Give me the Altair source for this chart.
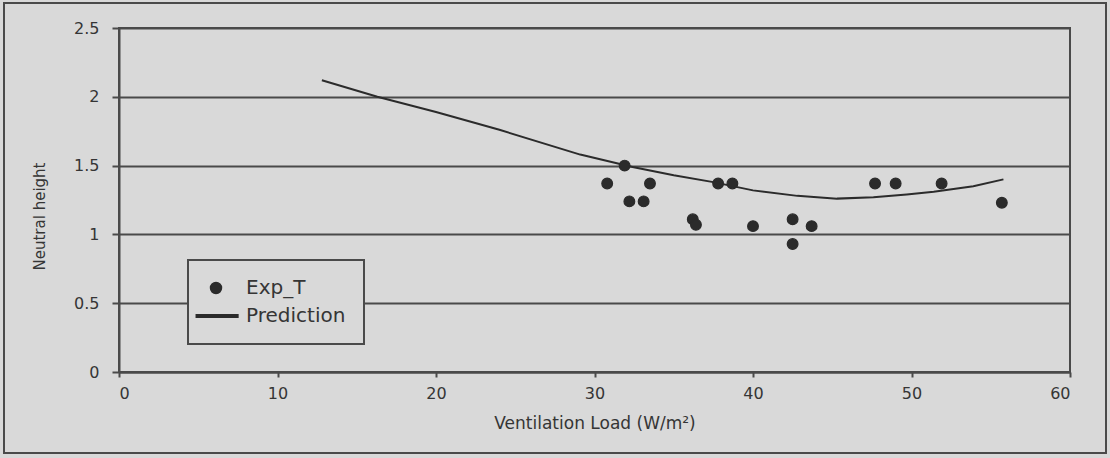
import altair as alt
import pandas as pd

# Measured neutral heights against ventilation load
load_exp = [30.8, 31.9, 32.2, 33.1, 33.5, 36.2, 36.4, 37.8, 38.7, 40.0,
            42.5, 42.5, 43.7, 47.7, 49.0, 51.9, 55.7]
height_exp = [1.37, 1.50, 1.24, 1.24, 1.37, 1.11, 1.07, 1.37, 1.37, 1.06,
              1.11, 0.93, 1.06, 1.37, 1.37, 1.37, 1.23]

# Predicted neutral height curve
load_pred = [12.8, 16.3, 20.0, 24.0, 29.1, 32.4, 35.0, 37.5, 40.0, 42.8,
             45.3, 47.6, 49.7, 51.4, 53.9, 55.8]
height_pred = [2.12, 2.00, 1.89, 1.76, 1.58, 1.49, 1.43, 1.38, 1.32, 1.28,
               1.26, 1.27, 1.29, 1.31, 1.35, 1.40]

series_names = ["Exp_T", "Prediction"]
x_ticks = [0, 10, 20, 30, 40, 50, 60]
y_ticks = [0, 0.5, 1, 1.5, 2, 2.5]

exp_df = pd.DataFrame({"load": load_exp, "height": height_exp, "series": series_names[0]})
pred_df = pd.DataFrame({"load": load_pred, "height": height_pred, "series": series_names[1]})

# Layout and style
W, H = 951, 344
PAD_L, PAD_T = 119, 28
PAD_R = 1110 - PAD_L - W
PAD_B = 458 - PAD_T - H
BG = "#d9d9d9"
INK = "#2b2b2b"
RULE = "#4a4a4a"
TEXT = "#353535"
FONT = "DejaVu Sans"

# legend glyphs: a dot for the measurements, a thin bar for the prediction
DOT = "circle"
BAR = "M-3.6,-0.22H4V0.22H-3.6Z"

x_enc = alt.X(
    "load:Q",
    scale=alt.Scale(domain=[0, 60], nice=False),
    axis=alt.Axis(
        values=x_ticks, format="d", title="Ventilation Load (W/m²)",
        grid=False, tickSize=5, labelPadding=8, titleY=43,
        titleBaseline="top",
    ),
)
y_enc = alt.Y(
    "height:Q",
    scale=alt.Scale(domain=[0, 2.5], nice=False),
    axis=alt.Axis(
        values=y_ticks, format="~g", title="Neutral height",
        grid=True, tickSize=7, labelPadding=13,
        titleX=-72, titleY=188, titleFontSize=15,
    ),
)

frame = alt.Chart(alt.Data(values=[{}])).mark_rect(
    fillOpacity=0, stroke=RULE, strokeWidth=2
).encode(
    x=alt.value(4 - PAD_L), x2=alt.value(1106 - PAD_L),
    y=alt.value(3 - PAD_T), y2=alt.value(453 - PAD_T),
)

pred_line = alt.Chart(pred_df).mark_line(color=INK, strokeWidth=2).encode(
    x=x_enc, y=y_enc
)

exp_points = alt.Chart(exp_df).mark_point(
    filled=True, size=115, opacity=1, color=INK, stroke=INK, strokeWidth=1.2
).encode(
    x=x_enc,
    y=y_enc,
    shape=alt.Shape(
        "series:N",
        scale=alt.Scale(domain=series_names, range=[DOT, BAR]),
        legend=alt.Legend(
            title=None, orient="none", legendX=69, legendY=232,
            direction="vertical", fillColor=BG, strokeColor=RULE,
            padding=18, labelFont=FONT, labelFontSize=20, labelColor=TEXT,
            labelOffset=20, rowPadding=8,
            symbolFillColor=INK, symbolSize=120,
        ),
    ),
)

chart = alt.layer(frame, pred_line, exp_points).properties(
    width=W, height=H,
    autosize=alt.AutoSizeParams(type="none"),
    padding={"left": PAD_L, "top": PAD_T, "right": PAD_R, "bottom": PAD_B},
    background=BG,
).configure_view(
    stroke=RULE, strokeWidth=2
).configure_axis(
    domainColor=RULE, domainWidth=2, tickColor=RULE, tickWidth=2,
    gridColor=RULE, gridWidth=2, gridOpacity=1,
    labelFont=FONT, labelFontSize=16, labelColor=TEXT,
    titleFont=FONT, titleFontSize=17, titleColor=TEXT, titleFontWeight="normal",
).configure_legend(
    strokeWidth=2
)

chart.save("out.html", embed_options={"renderer": "svg", "actions": False})
